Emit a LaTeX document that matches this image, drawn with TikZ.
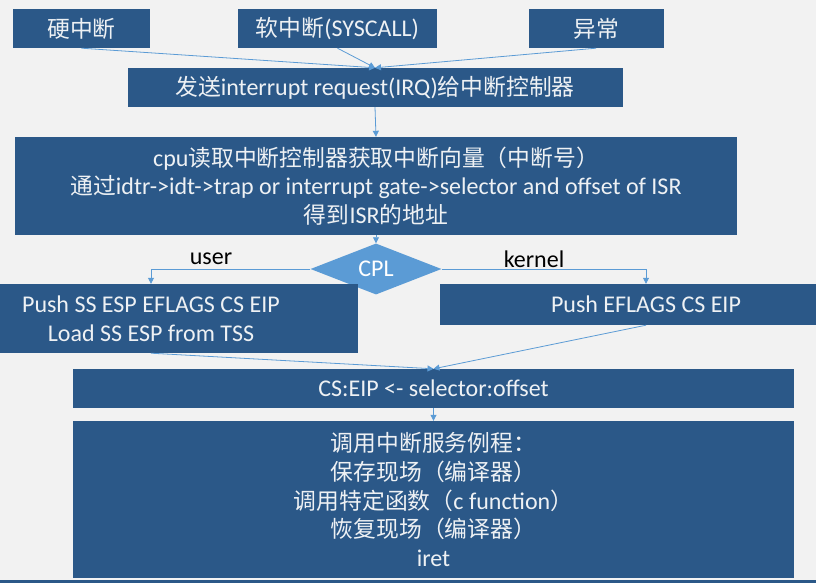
\documentclass[tikz,border=0pt]{standalone}
\usepackage{fontspec}
\setmainfont{Carlito}
\newfontfamily\cjk[Scale=0.95]{Noto Sans CJK SC}
\usepackage{xcolor}
\usepackage{tikz}
\usetikzlibrary{arrows.meta,positioning,shapes.geometric}
\definecolor{iblue}{HTML}{2B5888}
\definecolor{ilight}{HTML}{5B9BD5}
\definecolor{ibg}{HTML}{F2F2F2}
\definecolor{itext}{HTML}{EEF1F4}
\newcommand{\zh}[1]{{\cjk #1}}
\tikzset{
  >={Triangle[length=6pt,width=6pt]},
  ibox/.style={fill=iblue, text=itext, align=center, inner sep=0pt,
               font=\fontsize{24}{28.7}\selectfont},
  idiam/.style={diamond, fill=ilight, text=white, inner sep=0pt,
                minimum width=131pt, minimum height=38pt,
                font=\fontsize{24}{28.7}\selectfont},
  iflow/.style={->, ilight, line width=0.8pt},
  ilbl/.style={black, font=\fontsize{24}{28}\selectfont},
}

\begin{document}
\begin{tikzpicture}[x=1pt,y=-1pt]

  \path[use as bounding box, fill=ibg] (0,0) rectangle (816,583);
  \clip (0,0) rectangle (816,583);

  % --- 三种来源 ---
  \node[ibox, minimum width=137, minimum height=39] (hard) at (81.5,28.5) {\zh{硬中断}};
  \node[ibox, minimum width=199, minimum height=39] (soft) at (337.5,28.5) {\zh{软中断}(SYSCALL)};
  \node[ibox, minimum width=135, minimum height=39] (exc) at (596,28.5) {\zh{异常}};

  % --- 中断控制器 / 向量 ---
  \node[ibox, minimum width=495, minimum height=39] (irq) at (375,87.5)
    {\zh{发送}interrupt request(IRQ)\zh{给中断控制器}};
  \node[ibox, minimum width=722, minimum height=98] (cpu) at (376,186)
    {cpu\zh{读取中断控制器获取中断向量（中断号）}\\
     \zh{通过}idtr->idt->trap or interrupt gate->selector and offset of ISR\\
     \zh{得到}ISR\zh{的地址}};

  % --- 特权级判断 ---
  \node[idiam] (cpl) at (376,269) {CPL};
  \node[ibox, minimum width=414, minimum height=69] (ustack) at (151,318.5)
    {Push SS ESP EFLAGS CS EIP\\Load SS ESP from TSS};
  \node[ibox, minimum width=412, minimum height=41] (kstack) at (646,304.5)
    {Push EFLAGS CS EIP};
  \node[ilbl] (ulbl) at (211,259) {user};
  \node[ilbl] (klbl) at (534,259) {kernel};

  % --- 跳转与服务例程 ---
  \node[ibox, minimum width=721, minimum height=39] (jump) at (433.5,388.5)
    {CS:EIP <- selector:offset};
  \node[ibox, minimum width=721, minimum height=157] (isr) at (433.5,499.5)
    {\zh{调用中断服务例程：}\\
     \zh{保存现场（编译器）}\\
     \zh{调用特定函数（}c function\zh{）}\\
     \zh{恢复现场（编译器）}\\
     iret};

  % 底线
  \draw[iblue, line width=3pt] (0,581.5) -- (816,581.5);

  % --- 连线 ---
  \draw[iflow] (hard.south) -- (irq.north);
  \draw[iflow] (soft.south) -- (irq.north);
  \draw[iflow] (exc.south) -- (irq.north);
  \draw[iflow] (irq.south) -- (cpu.north);
  \draw[iflow] (cpu.south) -- (cpl.north);
  \draw[iflow] (cpl.west) -| (ustack.north);
  \draw[iflow] (cpl.east) -| (kstack.north);
  \draw[iflow] (ustack.south) -- (jump.north);
  \draw[iflow] (kstack.south) -- (jump.north);
  \draw[iflow] (jump.south) -- (isr.north);

\end{tikzpicture}
\end{document}
